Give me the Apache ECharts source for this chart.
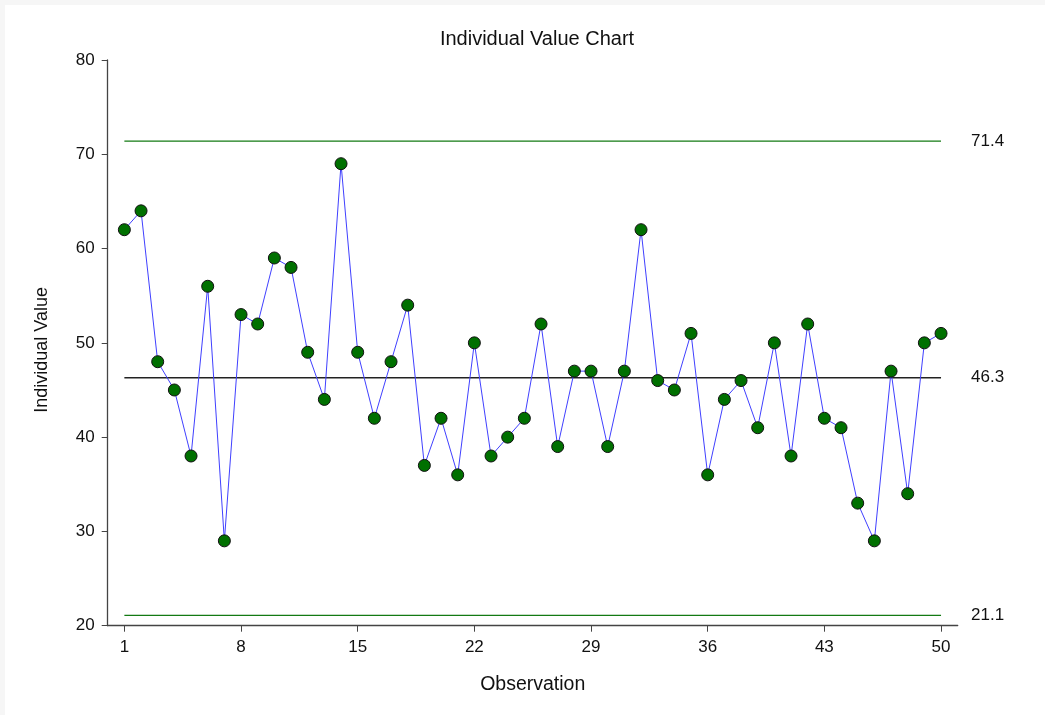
<!DOCTYPE html>
<html>
<head>
<meta charset="utf-8">
<script src="https://cdn.jsdelivr.net/npm/echarts@6/dist/echarts.min.js"></script>
<style>
html,body{margin:0;padding:0;background:#f6f6f6;width:1045px;height:715px;overflow:hidden;}
#chart{position:absolute;left:5px;top:5px;width:1040px;height:710px;background:#ffffff;}
</style>
</head>
<body>
<div id="chart"></div>
<script>
var observations = [1,2,3,4,5,6,7,8,9,10,11,12,13,14,15,16,17,18,19,20,21,22,23,24,25,26,27,28,29,30,31,32,33,34,35,36,37,38,39,40,41,42,43,44,45,46,47,48,49,50];
var values = [62,64,48,45,38,56,29,53,52,59,58,49,44,69,49,42,48,54,37,42,36,50,38,40,42,52,39,47,47,39,47,62,46,45,51,36,44,46,41,50,38,52,42,41,33,29,47,34,50,51];
var xTickValues = [1,8,15,22,29,36,43,50];
var ucl = 71.4, centerLine = 46.3, lcl = 21.1;

var points = observations.map(function(o,i){ return [o, values[i]]; });
var chart = echarts.init(document.getElementById('chart'));
var font = 'Liberation Sans, Arial, sans-serif';
function limitSeries(v, color){
  var first = observations[0], last = observations[observations.length-1];
  return {type:'line', data:[[first, v], [last, v]], silent:true, symbol:'none', z:1,
    lineStyle:{color:color, width:1.4, type:'solid'},
    endLabel:{show:true, distance:30, fontFamily:font, fontSize:17, color:'#111',
      formatter:function(){ return v.toFixed(1); }}};
}
chart.setOption({
  animation:false,
  backgroundColor:'#ffffff',
  title:{text:'Individual Value Chart', left:527, top:19, textAlign:'center',
    textStyle:{fontFamily:font, fontSize:20, fontWeight:'normal', color:'#111'}},
  grid:{left:102.7, top:55, width:850, height:565.7, containLabel:false},
  xAxis:{type:'value', min:0, max:51, name:'Observation', nameLocation:'middle', nameGap:49,
    nameTextStyle:{fontFamily:font, fontSize:19.5, color:'#111'},
    splitLine:{show:false},
    axisLine:{lineStyle:{color:'#444', width:1.3}},
    axisTick:{customValues:xTickValues, length:6, lineStyle:{color:'#444'}},
    axisLabel:{customValues:xTickValues, margin:13, fontFamily:font, fontSize:17, color:'#111'}},
  yAxis:{type:'value', min:20, max:80, interval:10, name:'Individual Value', nameLocation:'middle', nameGap:57,
    nameTextStyle:{fontFamily:font, fontSize:18, color:'#111', padding:[0,14,0,0]},
    splitLine:{show:false},
    axisLine:{show:true, lineStyle:{color:'#444', width:1.3}},
    axisTick:{show:true, length:6, lineStyle:{color:'#444'}},
    axisLabel:{margin:13, fontFamily:font, fontSize:17, color:'#111'}},
  series:[
    limitSeries(ucl, '#137a13'),
    limitSeries(centerLine, '#222222'),
    limitSeries(lcl, '#137a13'),
    {type:'line', data:points, symbol:'circle', symbolSize:12, z:5,
      lineStyle:{color:'#4040ff', width:1},
      itemStyle:{color:'#007000', borderColor:'#111', borderWidth:1}}
  ]
});
</script>
</body>
</html>
